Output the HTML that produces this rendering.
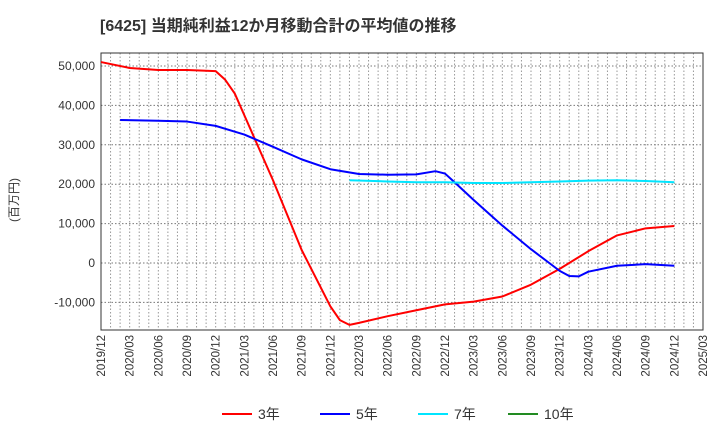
<!DOCTYPE html>
<html><head><meta charset="utf-8"><style>
body{margin:0;background:#fff;font-family:"Liberation Sans","Noto Sans CJK JP",sans-serif;}
svg text{font-family:"Liberation Sans","Noto Sans CJK JP",sans-serif;}
</style></head><body>
<svg id="c" width="720" height="440" xmlns="http://www.w3.org/2000/svg">
<text x="100" y="31" font-size="16" font-weight="bold" fill="#333">[6425]  当期純利益12か月移動合計の平均値の推移</text>
<text transform="translate(18,200) rotate(-90)" font-size="12" fill="#333" text-anchor="middle">(百万円)</text>
<g id="grid"></g><g id="axes"></g><g id="series"></g><g id="legend"></g>
</svg>
<script>
const yTicks=[-10000,0,10000,20000,30000,40000,50000];
const yTickLabels=["-10,000","0","10,000","20,000","30,000","40,000","50,000"];
const xTickLabels=["2019/12","2020/03","2020/06","2020/09","2020/12","2021/03","2021/06","2021/09","2021/12","2022/03","2022/06","2022/09","2022/12","2023/03","2023/06","2023/09","2023/12","2024/03","2024/06","2024/09","2024/12","2025/03"];
// months since 2019/12
const s3Months=[0,3,6,9,12,13,14,15,18,21,24,25,26,27,30,33,36,39,42,45,48,51,54,57,60];
const s3Values=[51000,49500,49000,49000,48700,46500,43000,37500,21000,3300,-11000,-14500,-15700,-15200,-13500,-12000,-10500,-9800,-8500,-5500,-1500,3000,7000,8800,9400];
const s5Months=[2,6,9,12,15,18,21,24,27,30,33,35,36,37,39,42,45,48,49,50,51,54,57,60];
const s5Values=[36300,36100,35900,34800,32600,29500,26300,23800,22600,22400,22500,23300,22700,20500,16000,9500,3500,-2000,-3300,-3400,-2200,-700,-300,-700];
const s7Months=[26,30,33,36,39,42,45,48,51,54,57,60];
const s7Values=[21000,20700,20500,20500,20300,20300,20500,20700,20900,21000,20800,20500];
const L=101,R=703,T=53,B=330,NM=63;
const x=m=>L+(R-L)*m/NM;
const y=v=>263-v*0.00394;
const NS="http://www.w3.org/2000/svg";
function mk(tag,attrs,parent){const e=document.createElementNS(NS,tag);for(const k in attrs)e.setAttribute(k,attrs[k]);document.getElementById(parent).appendChild(e);return e;}
for(let m=1;m<NM;m++){const e=mk('line',{x1:x(m),x2:x(m),y1:T,y2:B,stroke:'#999','stroke-dasharray':'1.5,2','stroke-width':1},'grid');

}
yTicks.forEach((v,i)=>{const g=mk('line',{x1:L,x2:R,y1:y(v),y2:y(v),stroke:'#777','stroke-dasharray':'1.5,2'},'grid');


const t=mk('text',{x:L-6,y:y(v)+4,'font-size':12,'text-anchor':'end',fill:'#333'},'axes');t.textContent=yTickLabels[i];

});
xTickLabels.forEach((s,i)=>{const px=x(i*3);const t=mk('text',{transform:`translate(${px+4},${B+5}) rotate(-90)`,'font-size':11.5,'text-anchor':'end',fill:'#333'},'axes');t.textContent=s;

});
const fr=mk('rect',{x:L,y:T,width:R-L,height:B-T,fill:'none',stroke:'#333'},'axes');


function line(ms,vs,col,name){const p=mk('polyline',{points:ms.map((m,i)=>x(m)+','+y(vs[i])).join(' '),fill:'none',stroke:col,'stroke-width':2,'stroke-linejoin':'round'},'series');

}
line(s3Months,s3Values,'#ff0000','series-3yr');
line(s5Months,s5Values,'#0000ff','series-5yr');
line(s7Months,s7Values,'#00e5ff','series-7yr');
const leg=[["3年","#ff0000",222],["5年","#0000ff",320],["7年","#00e5ff",418],["10年","#228b22",508]];
leg.forEach(l=>{const a=mk('line',{x1:l[2],x2:l[2]+30,y1:414,y2:414,stroke:l[1],'stroke-width':2},'legend');


const t=mk('text',{x:l[2]+36,y:419,'font-size':14,fill:'#333'},'legend');t.textContent=l[0];

});
</script>
</body></html>
